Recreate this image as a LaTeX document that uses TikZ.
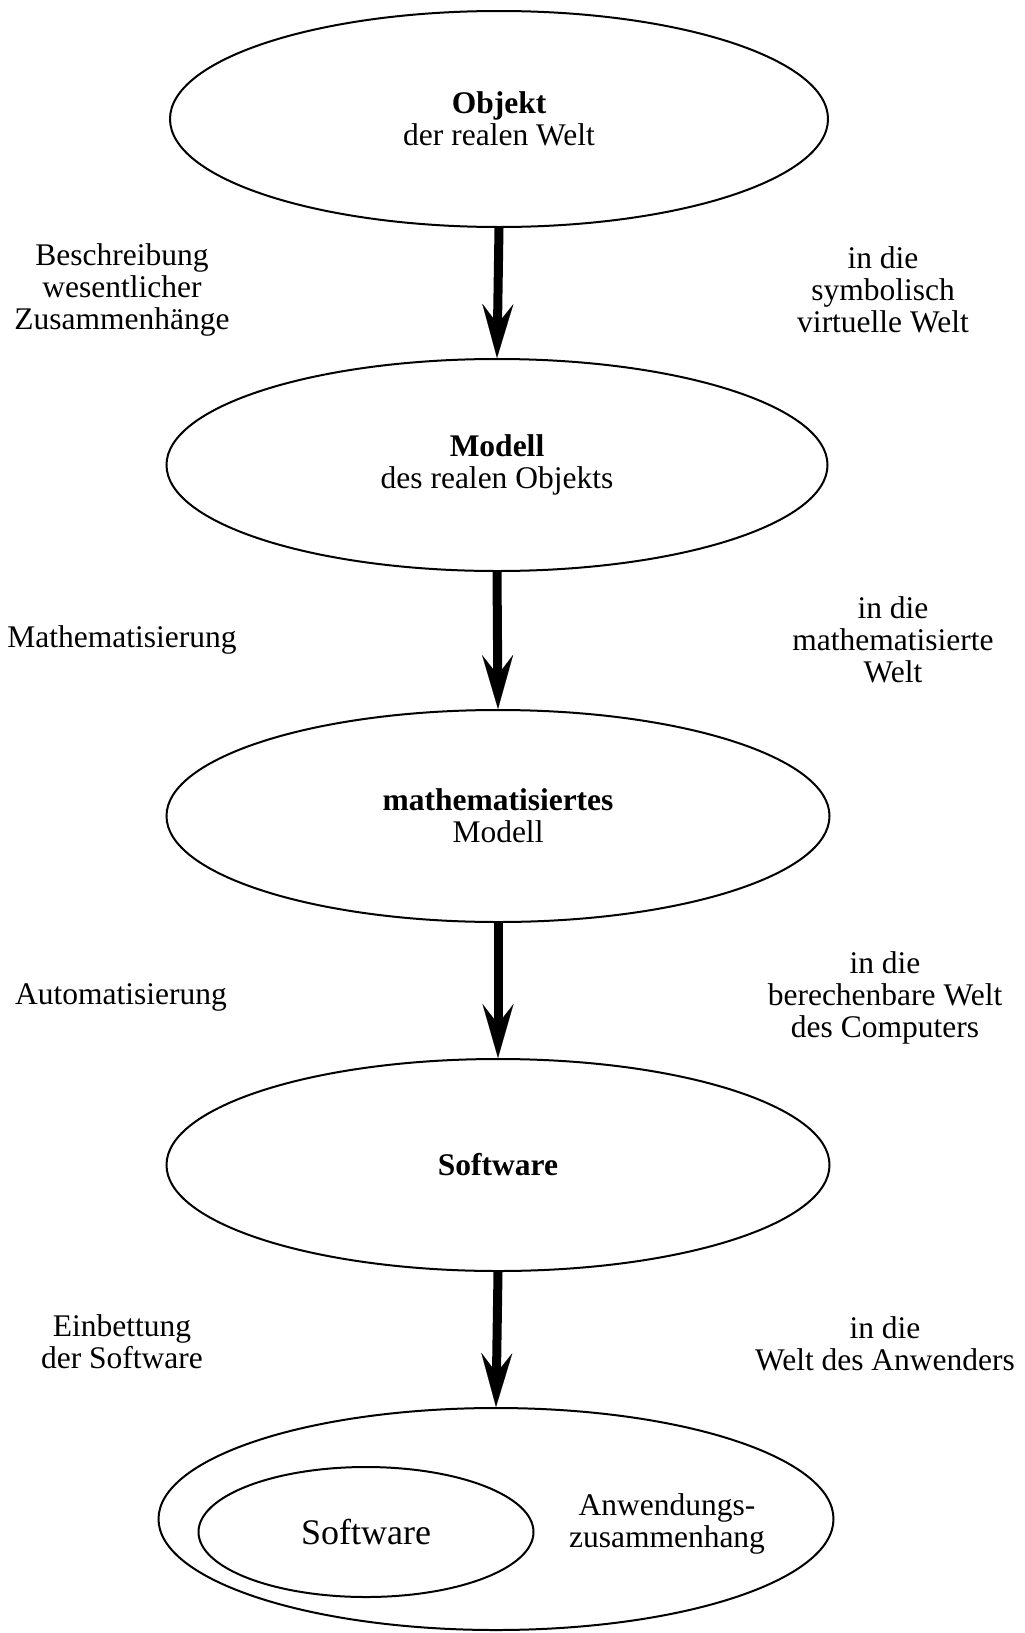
\documentclass[tikz,border=0pt]{standalone}
\usepackage{fontspec}
\setmainfont{Liberation Serif}
\usetikzlibrary{shapes.geometric,arrows.meta}
\begin{document}
\begin{tikzpicture}[x=1pt,y=-1pt,
  every node/.style={font=\fontsize{31.5}{32}\selectfont, align=center, inner sep=0pt},
  oval/.style={draw, ellipse, line width=2pt, minimum width=#1},
  flow/.style={line width=9pt, -{Stealth[length=54pt,width=31pt,inset=20pt,line width=0.1pt]}},
]
\useasboundingbox (0,0) rectangle (1025,1633);
\node[oval=658pt, minimum height=216pt] (e1) at (499,119) {\textbf{Objekt}\\der realen Welt};
\node[oval=661pt, minimum height=212pt] (e2) at (497,465) {\textbf{Modell}\\des realen Objekts};
\node[oval=663pt, minimum height=212pt] (e3) at (498,816) {\textbf{mathematisiertes}\\Modell};
\node[oval=663pt, minimum height=212pt] (e4) at (498,1165) {\textbf{Software}};
\node[oval=675pt, minimum height=222pt] (e5) at (496,1519) {};
\node[oval=335pt, minimum height=130pt, font=\fontsize{36}{38}\selectfont] (e6) at (366,1532) {Software};
\node (ctx) at (667,1524) {Anwendungs-\\zusammenhang};

\draw[flow] (e1.south) -- (e2.north);
\draw[flow] (e2.south) -- (e3.north);
\draw[flow] (e3.south) -- (e4.north);
\draw[flow] (e4.south) -- (e5.north);

\node (l1) at (122,290) {Beschreibung\\wesentlicher\\Zusammenhänge};
\node (r1) at (883,290) {in die\\symbolisch\\virtuelle Welt};
\node (l2) at (122,640) {Mathematisierung};
\node (r2) at (893,640) {in die\\mathematisierte\\Welt};
\node (l3) at (121,997) {Automatisierung};
\node (r3) at (885,998) {in die\\berechenbare Welt\\des Computers};
\node (l4) at (122,1342) {Einbettung\\der Software};
\node (r4) at (885,1344) {in die\\Welt des Anwenders};
\end{tikzpicture}
\end{document}
